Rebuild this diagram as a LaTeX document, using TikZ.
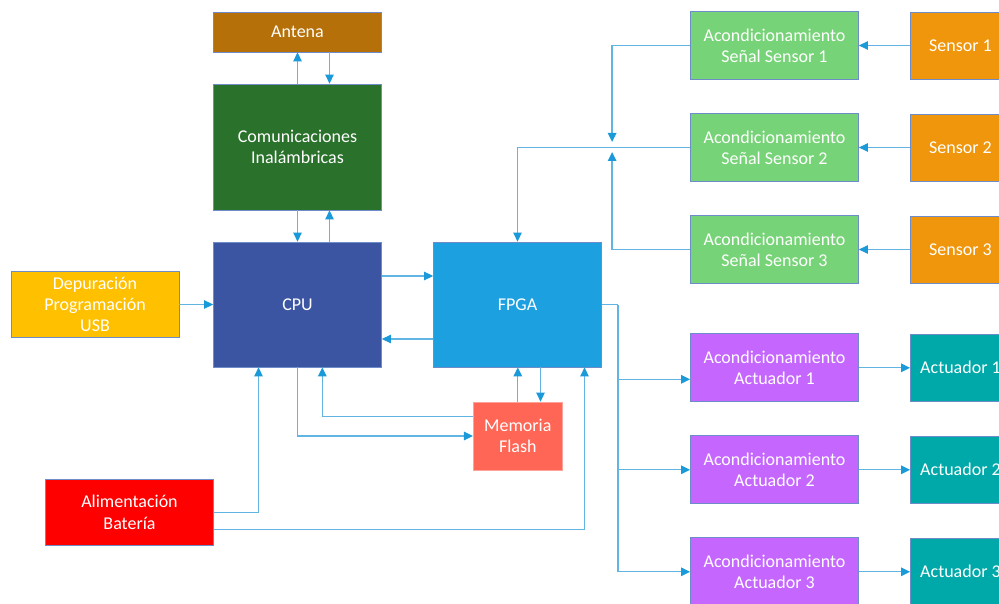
\documentclass[tikz,border=0pt]{standalone}
\usepackage{fontspec}
\setmainfont{Carlito}
\usetikzlibrary{arrows.meta,calc}

\definecolor{cAntena}{HTML}{B5700A}
\definecolor{cComunic}{HTML}{2A722B}
\definecolor{cCPU}{HTML}{3B55A3}
\definecolor{cDepur}{HTML}{FFC000}
\definecolor{cAlim}{HTML}{FF0000}
\definecolor{cFPGA}{HTML}{1CA0E0}
\definecolor{cMemoria}{HTML}{FF6655}
\definecolor{cAcondS}{HTML}{77D377}
\definecolor{cSensor}{HTML}{F0960C}
\definecolor{cAcondA}{HTML}{C566FF}
\definecolor{cActuador}{HTML}{00A9A9}
\definecolor{cLinea}{HTML}{62B4E3}
\definecolor{cPunta}{HTML}{1B9AD9}
\definecolor{cBorde}{HTML}{6D8CC8}

\begin{document}
\begin{tikzpicture}[x=1pt, y=-1pt,
    % Define styles
    block/.style={rectangle, draw=cBorde, line width=0.8pt, text=white, align=center, inner sep=0pt, font=\fontsize{18}{21.3}\selectfont},
    ancho/.style={block, minimum width=168pt, minimum height=68pt},
    externo/.style={block, minimum width=100pt, minimum height=67pt},
    conexion/.style={draw=cLinea, line width=1.3pt},
    flecha/.style={conexion, -{Triangle[length=9pt, width=8.5pt, color=cPunta]}}
]

\useasboundingbox (0,0) rectangle (999,604);

% CPU and communications
\node[block, fill=cAntena, minimum width=168pt, minimum height=40pt] (antena) at (297.5, 32) {Antena};
\node[block, fill=cComunic, minimum width=168pt, minimum height=126pt] (comunicaciones) at (297.5, 147) {Comunicaciones\\Inalámbricas};
\node[block, fill=cCPU, minimum width=168pt, minimum height=125pt] (cpu) at (297.5, 304.5) {CPU};
\node[block, fill=cDepur, minimum width=168pt, minimum height=66pt] (depuracion) at (95, 304.5) {Depuración\\Programación\\USB};
\node[block, fill=cAlim, minimum width=168pt, minimum height=66pt] (alimentacion) at (129.5, 512.3) {Alimentación\\Batería};

% FPGA and memory
\node[block, fill=cFPGA, minimum width=168pt, minimum height=125pt] (fpga) at (517.5, 304.5) {FPGA};
\node[block, fill=cMemoria, draw=cMemoria!60!white, minimum width=89pt, minimum height=68pt] (memoria) at (517.8, 436) {Memoria\\Flash};

% Sensors
\node[ancho, fill=cAcondS] (acond_s1) at (774.5, 45.5) {Acondicionamiento\\Señal Sensor 1};
\node[ancho, fill=cAcondS] (acond_s2) at (774.5, 147.5) {Acondicionamiento\\Señal Sensor 2};
\node[ancho, fill=cAcondS] (acond_s3) at (774.5, 249.5) {Acondicionamiento\\Señal Sensor 3};

\node[externo, fill=cSensor] (sensor1) at (960.5, 45.5) {Sensor 1};
\node[externo, fill=cSensor] (sensor2) at (960.5, 147.5) {Sensor 2};
\node[externo, fill=cSensor] (sensor3) at (960.5, 249.5) {Sensor 3};

% Actuators
\node[ancho, fill=cAcondA] (acond_a1) at (774.5, 367.8) {Acondicionamiento\\Actuador 1};
\node[ancho, fill=cAcondA] (acond_a2) at (774.5, 469.8) {Acondicionamiento\\Actuador 2};
\node[ancho, fill=cAcondA] (acond_a3) at (774.5, 571.8) {Acondicionamiento\\Actuador 3};

\node[externo, fill=cActuador] (actuador1) at (960.5, 367.8) {Actuador 1};
\node[externo, fill=cActuador] (actuador2) at (960.5, 469.8) {Actuador 2};
\node[externo, fill=cActuador] (actuador3) at (960.5, 571.8) {Actuador 3};

% Antena - comunicaciones - CPU
\draw[flecha] (comunicaciones.north) -- (antena.south);
\draw[flecha] ($(antena.south)+(32,0)$) -- ($(comunicaciones.north)+(32,0)$);
\draw[flecha] (comunicaciones.south) -- (cpu.north);
\draw[flecha] ($(cpu.north)+(32,0)$) -- ($(comunicaciones.south)+(32,0)$);

% CPU - FPGA
\draw[flecha] ($(cpu.east)+(0,-28.5)$) -- ($(fpga.west)+(0,-28.5)$);
\draw[flecha] ($(fpga.west)+(0,34.5)$) -- ($(cpu.east)+(0,34.5)$);
\draw[flecha] (depuracion.east) -- (cpu.west);

% Power supply
\draw[flecha] (alimentacion.east) -| ($(cpu.south)+(-39,0)$);
\draw[flecha] ($(alimentacion.east)+(0,17)$) -| ($(fpga.south)+(67,0)$);

% Memory
\draw[flecha] (cpu.south) |- (memoria.west);
\draw[flecha] ($(memoria.west)+(0,-19.3)$) -| ($(cpu.south)+(24.8,0)$);
\draw[flecha] (memoria.north) -- (memoria.north |- fpga.south);
\draw[flecha] ($(fpga.south)+(23,0)$) -- ($(memoria.north)+(22.7,0)$);

% Sensor inputs
\coordinate (union) at ($(acond_s2.west)+(-78,0)$);
\draw[flecha] (acond_s2.west) -| (fpga.north);
\draw[flecha] (acond_s1.west) -| ($(union)+(0,-5.5)$);
\draw[flecha] (acond_s3.west) -| ($(union)+(0,4.5)$);
\draw[flecha] (sensor1.west) -- (acond_s1.east);
\draw[flecha] (sensor2.west) -- (acond_s2.east);
\draw[flecha] (sensor3.west) -- (acond_s3.east);

% Actuator outputs
\coordinate (bus) at ($(fpga.east)+(16.2,0)$);
\draw[conexion] (fpga.east) -- (bus);
\draw[flecha] (bus) |- ($(acond_a1.west)+(0,11.5)$);
\draw[flecha] (bus) |- (acond_a2.west);
\draw[flecha] (bus) |- (acond_a3.west);
\draw[flecha] (acond_a1.east) -- (actuador1.west);
\draw[flecha] (acond_a2.east) -- (actuador2.west);
\draw[flecha] (acond_a3.east) -- (actuador3.west);

\end{tikzpicture}
\end{document}
